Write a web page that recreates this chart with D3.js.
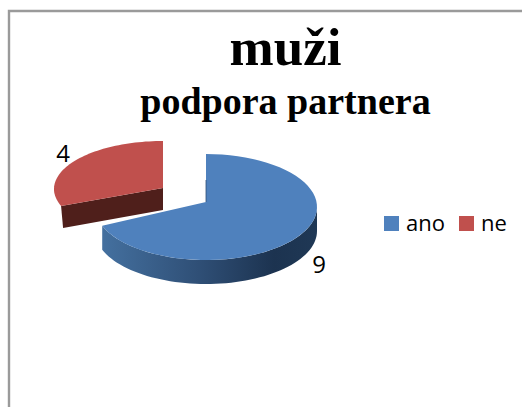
<!DOCTYPE html>
<html>
<head>
<meta charset="utf-8">
<script src="https://cdn.jsdelivr.net/npm/d3@7"></script>
<style>
html,body{margin:0;padding:0;background:#fff;}
svg{display:block;}
</style>
</head>
<body>
<svg id="chart" width="522" height="407"></svg>
<script>
var categories = ["ano","ne"];
var values = [9,4];
var colors = ["#4f81bd","#c0504d"];
var title1 = "muži";
var title2 = "podpora partnera";

var svg = d3.select("#chart");
var labelFont = "'Open Sans','Noto Sans',sans-serif";

// frame, open on the right and at the bottom
svg.append("path")
	.attr("d","M9,407V11H522")
	.attr("fill","none")
	.attr("stroke","#9a9a9a")
	.attr("stroke-width",2.4);

svg.append("text").text(title1)
	.attr("x",285.5).attr("y",65)
	.attr("text-anchor","middle")
	.style("font","bold 53px 'Liberation Serif',serif");
svg.append("text").text(title2)
	.attr("x",285.5).attr("y",114)
	.attr("text-anchor","middle")
	.style("font","bold 38px 'Liberation Serif',serif");

var defs = svg.append("defs");
var grad = defs.append("linearGradient").attr("id","rimBlue");
grad.append("stop").attr("offset","0%").attr("stop-color","#44709f");
grad.append("stop").attr("offset","45%").attr("stop-color","#2f4f76");
grad.append("stop").attr("offset","80%").attr("stop-color","#1c3350");
grad.append("stop").attr("offset","100%").attr("stop-color","#1f3855");

var pie = d3.pie().sort(null).startAngle(0).endAngle(2*Math.PI);
var slices = pie(values);

// one entry per slice: where its ellipse sits after the explode
// tipY is the apex, it sits above the ellipse centre because of the perspective
var geom = [
	{cx:206,cy:207,tipY:202,rx:111,ry:53,depth:24,wall:true},
	{cx:163,cy:189,tipY:188,rx:109,ry:48,depth:22,wall:false}
];

function px(g,a){ return g.cx+g.rx*Math.sin(a); }
function py(g,a){ return g.cy-g.ry*Math.cos(a); }

function steps(a0,a1){
	return d3.range(0,61).map(function(i){ return a0+(a1-a0)*i/60; });
}

// outer wall of a slice, only the part facing the viewer
function rimPath(s,g){
	var a0 = Math.max(s.startAngle,Math.PI/2);
	var a1 = Math.min(s.endAngle,3*Math.PI/2);
	if(a1<=a0) return null;
	var st = steps(a0,a1);
	var pts = st.map(function(a){ return [px(g,a),py(g,a)]; })
		.concat(st.slice().reverse().map(function(a){ return [px(g,a),py(g,a)+g.depth]; }));
	return d3.line()(pts)+"Z";
}

function drawSlice(i,wallFill,cutFill){
	var s = slices[i], g = geom[i];
	var gr = svg.append("g");
	if(g.wall) gr.append("path").attr("d",rimPath(s,g)).attr("fill",wallFill);
	// cut face along the start of the red slice
	if(cutFill){
		var a = s.startAngle;
		gr.append("path")
			.attr("d",d3.line()([[g.cx,g.tipY],[px(g,a),py(g,a)],[px(g,a)+2,py(g,a)+g.depth],[g.cx,g.tipY+g.depth]])+"Z")
			.attr("fill",cutFill);
	}
	var top = steps(s.startAngle,s.endAngle).map(function(a){ return [px(g,a),py(g,a)]; });
	gr.append("path")
		.attr("d",d3.line()([[g.cx,g.tipY]].concat(top))+"Z")
		.attr("fill",colors[i]);
}

drawSlice(1,null,"#4f1f1b");
drawSlice(0,"url(#rimBlue)",null);

// thin dark edge where the blue slice starts
svg.append("line")
	.attr("x1",geom[0].cx).attr("y1",geom[0].tipY)
	.attr("x2",geom[0].cx).attr("y2",geom[0].tipY-22)
	.attr("stroke","#2f4f76").attr("stroke-width",0.8);

svg.append("text").text(values[0])
	.attr("x",319).attr("y",273)
	.attr("text-anchor","middle")
	.style("font","24px "+labelFont);
svg.append("text").text(values[1])
	.attr("x",63).attr("y",162)
	.attr("text-anchor","middle")
	.style("font","24px "+labelFont);

var legendX = d3.scaleOrdinal().domain(categories).range([384,459]);
var legend = svg.selectAll(".leg").data(categories).enter().append("g").attr("class","leg");
legend.append("rect")
	.attr("x",function(d){ return legendX(d); })
	.attr("y",216)
	.attr("width",15).attr("height",15)
	.attr("fill",function(d,i){ return colors[i]; });
legend.append("text")
	.attr("x",function(d){ return legendX(d)+22; })
	.attr("y",231)
	.style("font","22px "+labelFont)
	.text(function(d){ return d; });
</script>
</body>
</html>
